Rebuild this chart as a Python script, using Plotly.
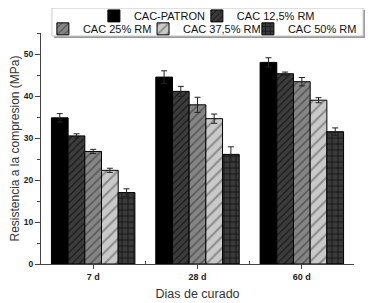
import plotly.graph_objects as go

categories = ["7 d", "28 d", "60 d"]
series = ["CAC-PATRON", "CAC 12,5% RM", "CAC 25% RM", "CAC 37,5% RM", "CAC 50% RM"]
patron = [34.8, 44.5, 48.0]
rm125 = [30.5, 41.1, 45.3]
rm25 = [26.8, 37.9, 43.4]
rm375 = [22.3, 34.6, 39.0]
rm50 = [17.0, 26.1, 31.5]
err_patron = [1.0, 1.5, 1.1]
err_125 = [0.5, 1.2, 0.4]
err_25 = [0.5, 1.8, 1.0]
err_375 = [0.5, 1.1, 0.6]
err_50 = [0.9, 1.8, 0.9]

values = [patron, rm125, rm25, rm375, rm50]
errors = [err_patron, err_125, err_25, err_375, err_50]
bgcolors = ["#000000", "#3c3c3c", "#858585", "#c9c9c9", "#3a3a3a"]
fgcolors = ["#000000", "#1a1a1a", "#555555", "#8a8a8a", "#111111"]
shapes_p = ["", "/", "/", "/", "+"]
sizes = [6, 5, 6, 8, 6]
legend_ids = ["legend", "legend2", "legend3", "legend4", "legend5"]
legend_x = [0.169, 0.498, 0.006, 0.326, 0.661]
legend_y = [1.074, 1.074, 1.018, 1.018, 1.018]

x_pos = list(range(len(categories)))
FONT = "Liberation Sans, Arial, sans-serif"

fig = go.Figure()
for name, vals, errs, bg, fg, sh, sz, lg in zip(series, values, errors, bgcolors, fgcolors, shapes_p, sizes, legend_ids):
    fig.add_trace(go.Bar(
        x=x_pos, y=vals, name=name, legend=lg,
        marker=dict(color=bg, line=dict(color="#000000", width=1),
                    pattern=dict(shape=sh, bgcolor=bg, fgcolor=fg, size=sz, solidity=0.25, fillmode="replace")),
        error_y=dict(type="data", array=errs, color="#222222", thickness=1, width=3),
    ))

legend_layout = {}
for lg, lx, ly in zip(legend_ids, legend_x, legend_y):
    legend_layout[lg] = dict(x=lx, xanchor="left", y=ly, yanchor="middle",
                             bgcolor="rgba(0,0,0,0)", borderwidth=0,
                             font=dict(size=11, family=FONT, color="#111111"),
                             itemwidth=30)

# page body has an 8px default margin, so the figure is 8px smaller and shifted
fig.update_layout(
    width=367, height=295,
    margin=dict(l=33, r=21, t=25, b=39, autoexpand=False),
    paper_bgcolor="white", plot_bgcolor="white",
    barmode="group", bargap=0.2, bargroupgap=0,
    font=dict(family=FONT, color="#222222"),
    showlegend=True,
    xaxis=dict(range=[-0.5, 2.5], tickvals=x_pos, ticktext=categories,
               showline=True, linecolor="#444444", linewidth=1, showgrid=False, zeroline=False,
               ticks="outside", ticklen=4, tickcolor="#444444",
               tickfont=dict(size=9, family=FONT, color="#222222", weight="bold"),
               minor=dict(tickvals=[0.5, 1.5], ticks="inside", ticklen=3, tickcolor="#444444"),
               title=dict(text="Dias de curado", font=dict(size=12.5, family=FONT, color="#333333"), standoff=8)),
    yaxis=dict(range=[0, 55], dtick=10, showline=True, linecolor="#444444", linewidth=1,
               showgrid=False, zeroline=False, ticks="outside", ticklen=5, tickcolor="#444444",
               tickfont=dict(size=8.5, family=FONT, color="#222222", weight="bold"),
               minor=dict(dtick=5, ticks="outside", ticklen=3, tickcolor="#444444"),
               title=dict(text="Resistencia a la compresion (MPa)", font=dict(size=12, family=FONT, color="#333333"), standoff=10)),
    shapes=[
        dict(type="rect", xref="paper", yref="paper", x0=0.042, x1=1.035, y0=0.978, y1=1.100,
             line=dict(width=0), fillcolor="#9a9a9a", layer="above"),
        dict(type="rect", xref="paper", yref="paper", x0=0.035, x1=1.029, y0=0.987, y1=1.108,
             line=dict(width=1, color="#c8c8c8"), fillcolor="white", layer="above"),
    ],
)
fig.update_layout(**legend_layout)

fig.write_html("out.html")
